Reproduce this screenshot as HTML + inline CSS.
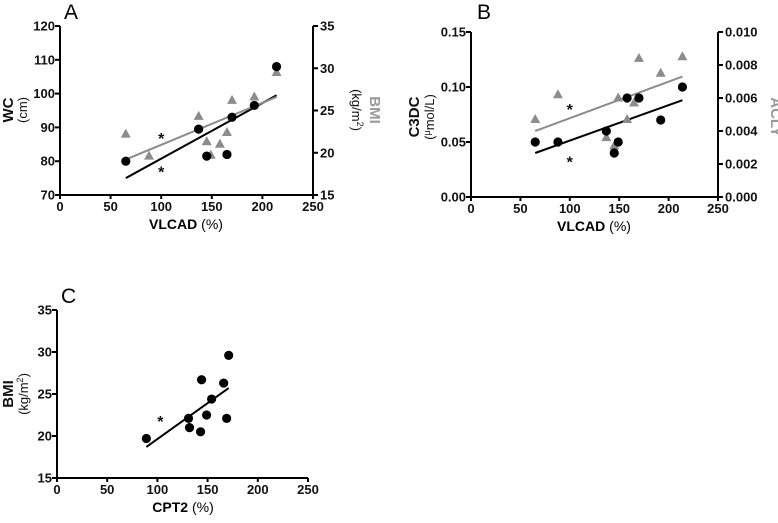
<!DOCTYPE html>
<html><head><meta charset="utf-8"><style>
body{margin:0;background:#fff;width:778px;height:518px;overflow:hidden}
svg{font-family:"Liberation Sans",Arial,sans-serif}
.t{font-size:13px;font-weight:bold;fill:#111}
</style></head><body>
<svg id="fig" width="778" height="518" viewBox="0 0 778 518" xmlns="http://www.w3.org/2000/svg"></svg>
<script>
// Panel A data
const aX=[65,137,145,165,170,192,214];
const aWC=[80,89.5,81.5,82,93,96.5,108];
const aTx=[65,88,137,145,149,158,165,170,192,214];
const aBMI=[22.2,19.6,24.3,21.3,19.7,21.0,22.4,26.2,26.6,29.5];
const aLineBlack=[[65,75],[214,99.5]];
const aLineGray=[[65,19.2],[214,26.6]];
// Panel B data
const bX=[65,88,137,145,149,158,170,192,214];
const bC3DC=[0.05,0.05,0.06,0.04,0.05,0.09,0.09,0.07,0.10];
const bTx=[65,88,137,145,149,158,165,170,192,214];
const bACLY=[0.0047,0.0062,0.0036,0.0031,0.0060,0.0047,0.0057,0.0084,0.0075,0.0085];
const bLineBlack=[[65,0.040],[214,0.088]];
const bLineGray=[[65,0.0040],[214,0.0073]];
// Panel C data
const cX=[89,131,132,143,144,149,154,166,169,171];
const cBMI=[19.7,22.1,21.0,20.5,26.7,22.5,24.4,26.3,22.1,29.6];
const cLine=[[89,18.7],[171,25.7]];
const xTicks=[0,50,100,150,200,250];
const aLTicks=[70,80,90,100,110,120];
const aRTicks=[15,20,25,30,35];
const bLTicks=[0.00,0.05,0.10,0.15];
const bRTicks=[0.000,0.002,0.004,0.006,0.008,0.010];
const cTicks=[15,20,25,30,35];

const NS="http://www.w3.org/2000/svg";
const svg=document.getElementById('fig');
function mk(tag,attrs,parent,txt){const e=document.createElementNS(NS,tag);for(const k in attrs)e.setAttribute(k,attrs[k]);if(txt!==undefined)e.textContent=txt;(parent||svg).appendChild(e);return e;}
function lin(d0,d1,r0,r1){return v=>r0+(v-d0)*(r1-r0)/(d1-d0);}

function axes(g,x0,x1,yTop,yBot,sx,ticks,fmt){
  let l=mk('line',{x1:x0,x2:x1,y1:yBot,y2:yBot,stroke:'#000','stroke-width':2},g);
  
  ticks.forEach(t=>{const x=sx(t);
    mk('line',{x1:x,x2:x,y1:yBot,y2:yBot+4,stroke:'#000','stroke-width':2},g);
    const tx=mk('text',{x:x,y:yBot+16,'text-anchor':'middle',class:'t'},g,fmt(t));
    });
}
function yaxis(g,x,yTop,yBot,ys,ticks,fmt,right){
  const l=mk('line',{x1:x,x2:x,y1:yTop,y2:yBot,stroke:'#000','stroke-width':2},g);
  
  ticks.forEach(t=>{const y=ys(t);
    mk('line',{x1:x,x2:right?x+5:x-5,y1:y,y2:y,stroke:'#000','stroke-width':2},g);
    const tx=mk('text',{x:right?x+7:x-5,y:y+4.5,'text-anchor':right?'start':'end',class:'t'},g,fmt(t));
    });
}
function circ(g,x,y){const c=mk('circle',{cx:x,cy:y,r:4.6,fill:'#000'},g);}
function tri(g,x,y){const p=mk('polygon',{points:`${x},${y-5.5} ${x-5},${y+3.5} ${x+5},${y+3.5}`,fill:'#8c8c8c'},g);}
function fit(g,pts,sx,sy,col,name){const l=mk('line',{x1:sx(pts[0][0]),y1:sy(pts[0][1]),x2:sx(pts[1][0]),y2:sy(pts[1][1]),stroke:col,'stroke-width':2},g);}
function star(g,x,y){const s=mk('text',{x:x,y:y+8,'text-anchor':'middle','font-size':'16px','font-weight':'bold',fill:'#111'},g,'*');}
function label(g,x,y,txt,name,size){const t=mk('text',{x:x,y:y,'font-size':(size||21)+'px'},g,txt);}
function vtext(g,x,y,html,name,cls){const t=mk('text',{transform:`translate(${x},${y}) rotate(${cls.rot})`,'text-anchor':'middle','font-size':cls.size,'font-weight':cls.bold?'bold':'normal',fill:cls.fill||'#111'},g);t.innerHTML=html;return t;}

// ---- Panel A
{const g=mk('g',{});
 const sx=lin(0,250,60,313), sy=lin(70,120,195,26), sy2=lin(15,35,195,26);
 label(g,64,19,'A','panel-label-a');
 axes(g,60,313,26,195,sx,xTicks,t=>t);
 yaxis(g,60,26,195,sy,aLTicks,t=>t,false);
 yaxis(g,313,26,195,sy2,aRTicks,t=>t,true);
 fit(g,aLineBlack,sx,sy,'#000','wc-fit-line');
 fit(g,aLineGray,sx,sy2,'#8c8c8c','bmi-fit-line');
 aTx.forEach((x,i)=>tri(g,sx(x),sy2(aBMI[i])));
 aX.forEach((x,i)=>circ(g,sx(x),sy(aWC[i])));
 star(g,sx(100),sy(87.5));star(g,sx(100),sy(77.5));
 const xl=mk('text',{x:186,y:229,'text-anchor':'middle','font-size':'14px'},g);xl.innerHTML='<tspan font-weight="bold">VLCAD</tspan> (%)';
 vtext(g,13,110,'WC','y-axis-title',{rot:-90,size:'15px',bold:true});
 vtext(g,27,110,'(cm)','y-axis-unit',{rot:-90,size:'13px'});
 vtext(g,370,110,'BMI','right-y-axis-title',{rot:90,size:'15px',bold:true,fill:'#999'});
 vtext(g,352,110,'(kg/m<tspan font-size="9" dy="-5">2</tspan><tspan dy="5">)</tspan>','right-y-axis-unit',{rot:90,size:'13px'});
}
// ---- Panel B
{const g=mk('g',{});
 const sx=lin(0,250,471,718), sy=lin(0,0.15,197,32), sy2=lin(0,0.010,197,32);
 label(g,477,19,'B','panel-label-b');
 axes(g,471,718,32,197,sx,xTicks,t=>t);
 yaxis(g,471,32,197,sy,bLTicks,t=>t.toFixed(2),false);
 yaxis(g,718,32,197,sy2,bRTicks,t=>t.toFixed(3),true);
 fit(g,bLineBlack,sx,sy,'#000','c3dc-fit-line');
 fit(g,bLineGray,sx,sy2,'#8c8c8c','acly-fit-line');
 bTx.forEach((x,i)=>tri(g,sx(x),sy2(bACLY[i])));
 bX.forEach((x,i)=>circ(g,sx(x),sy(bC3DC[i])));
 star(g,sx(100),sy(0.082));star(g,sx(100),sy(0.034));
 const xl=mk('text',{x:594,y:231,'text-anchor':'middle','font-size':'14px'},g);xl.innerHTML='<tspan font-weight="bold">VLCAD</tspan> (%)';
 vtext(g,419,117,'C3DC','y-axis-title',{rot:-90,size:'15px',bold:true});
 vtext(g,434,117,'(<tspan font-size="9" dy="-4">μ</tspan><tspan dy="4">mol/L)</tspan>','y-axis-unit',{rot:-90,size:'13px'});
 vtext(g,771,117,'ACLY','right-y-axis-title',{rot:90,size:'15px',bold:true,fill:'#999'});
}
// ---- Panel C
{const g=mk('g',{});
 const sx=lin(0,250,57,308), sy=lin(15,35,478,310);
 label(g,61,303,'C','panel-label-c');
 axes(g,57,308,310,478,sx,xTicks,t=>t);
 yaxis(g,57,310,478,sy,cTicks,t=>t,false);
 fit(g,cLine,sx,sy,'#000','bmi-fit-line');
 cX.forEach((x,i)=>circ(g,sx(x),sy(cBMI[i])));
 star(g,sx(103),sy(22));
 const xl=mk('text',{x:183,y:512,'text-anchor':'middle','font-size':'14px'},g);xl.innerHTML='<tspan font-weight="bold">CPT2</tspan> (%)';
 vtext(g,13,394,'BMI','y-axis-title',{rot:-90,size:'15px',bold:true});
 vtext(g,28,394,'(kg/m<tspan font-size="9" dy="-5">2</tspan><tspan dy="5">)</tspan>','y-axis-unit',{rot:-90,size:'13px'});
}
</script>
</body></html>
